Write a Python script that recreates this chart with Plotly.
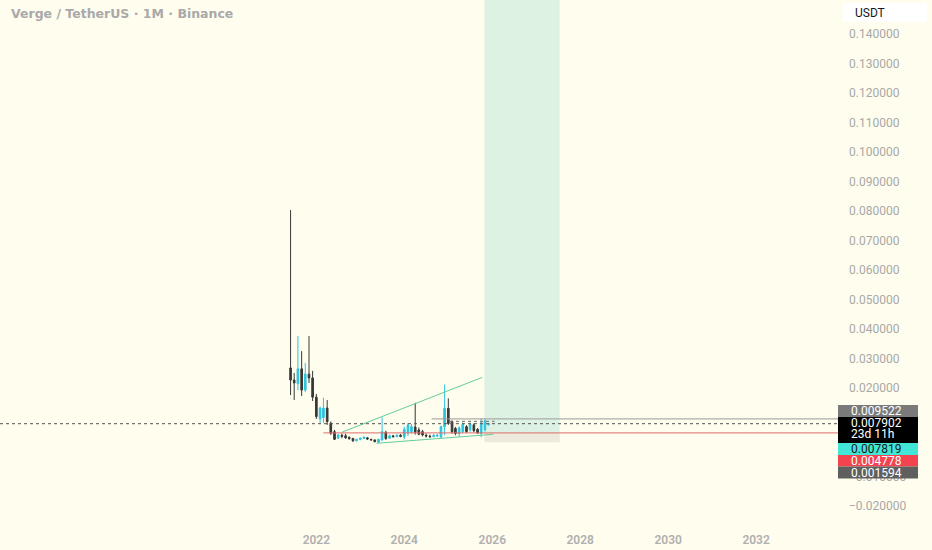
import pandas as pd
import plotly.graph_objects as go

# --- Datos (velas mensuales XVG/USDT) ---
months = pd.date_range('2021-06-01', '2025-12-01', freq='MS')

opens = [0.0268, 0.0227, 0.0215, 0.0265, 0.0193, 0.0247, 0.0234, 0.0169, 0.0095, 0.0100,
         0.0132, 0.0081, 0.0052, 0.0030, 0.0040, 0.0038, 0.0033, 0.0029, 0.0021, 0.0025,
         0.0029, 0.0031, 0.0026, 0.0024, 0.0016, 0.0024, 0.0050, 0.0030, 0.0038, 0.0035,
         0.0040, 0.0034, 0.0048, 0.0052, 0.0068, 0.0058, 0.0052, 0.0040, 0.0037, 0.0035,
         0.0037, 0.0033, 0.0069, 0.0131, 0.0086, 0.0063, 0.0046, 0.0052, 0.0069, 0.0058,
         0.0075, 0.0060, 0.0046, 0.0058, 0.0075]
highs = [0.0803, 0.0251, 0.0376, 0.0325, 0.0285, 0.0376, 0.0258, 0.0180, 0.0137, 0.0167,
         0.0159, 0.0086, 0.0058, 0.0044, 0.0045, 0.0045, 0.0036, 0.0031, 0.0028, 0.0032,
         0.0036, 0.0034, 0.0028, 0.0025, 0.0028, 0.0101, 0.0055, 0.0042, 0.0041, 0.0043,
         0.0044, 0.0069, 0.0082, 0.0078, 0.0150, 0.0066, 0.0058, 0.0046, 0.0042, 0.0044,
         0.0043, 0.0072, 0.0212, 0.0165, 0.0090, 0.0068, 0.0070, 0.0083, 0.0074, 0.0083,
         0.0080, 0.0064, 0.0097, 0.0095, 0.0082]
lows = [0.0176, 0.0159, 0.0193, 0.0173, 0.0186, 0.0217, 0.0156, 0.0095, 0.0081, 0.0082,
        0.0075, 0.0041, 0.0024, 0.0027, 0.0030, 0.0028, 0.0025, 0.0017, 0.0019, 0.0023,
        0.0027, 0.0024, 0.0022, 0.0016, 0.0014, 0.0021, 0.0025, 0.0028, 0.0032, 0.0033,
        0.0033, 0.0026, 0.0037, 0.0045, 0.0042, 0.0040, 0.0036, 0.0032, 0.0030, 0.0033,
        0.0034, 0.0031, 0.0040, 0.0075, 0.0045, 0.0040, 0.0035, 0.0048, 0.0048, 0.0052,
        0.0050, 0.0044, 0.0033, 0.0052, 0.0073]
closes = [0.0227, 0.0217, 0.0265, 0.0193, 0.0247, 0.0234, 0.0169, 0.0103, 0.0132, 0.0132,
          0.0086, 0.0047, 0.0026, 0.0040, 0.0036, 0.0031, 0.0028, 0.0021, 0.0026, 0.0030,
          0.0033, 0.0027, 0.0024, 0.0018, 0.0026, 0.0052, 0.0028, 0.0038, 0.0035, 0.0040,
          0.0036, 0.0060, 0.0075, 0.0069, 0.0050, 0.0043, 0.0041, 0.0037, 0.0035, 0.0039,
          0.0040, 0.0069, 0.0131, 0.0080, 0.0052, 0.0046, 0.0065, 0.0078, 0.0052, 0.0078,
          0.0055, 0.0048, 0.0082, 0.0089, 0.0079]

# Herramientas dibujadas (líneas de tendencia, niveles, posición larga)
upper_trend_dates = ['2022-08-01', '2025-10-10']
upper_trend_prices = [0.0050, 0.0236]
lower_trend_dates = ['2023-05-16', '2026-01-10']
lower_trend_prices = [0.00125, 0.0043]

position_dates = ['2025-10-28', '2027-07-15']
entry_price = 0.004778
stop_price = 0.001594
target_price = 0.20

level_top = 0.009522
last_price = 0.007902

label_texts = ['0.009522', '0.007902<br>23d 11h', '0.007819', '0.004778', '0.001594']
label_colors = ['#7a7a7a', '#000000', '#42e6d6', '#f2434f', '#5f5f5f']
label_fonts = ['white', 'white', '#1a1a1a', 'white', 'white']

year_ticks = ['2022-01-01', '2024-01-01', '2026-01-01', '2028-01-01', '2030-01-01', '2032-01-01']
year_labels = ['2022', '2024', '2026', '2028', '2030', '2032']

title_text = 'Verge / TetherUS · 1M · Binance'

BG = '#fffdee'
UP = '#2ec3df'
DOWN = '#383838'

fig = go.Figure()

fig.add_trace(go.Candlestick(
    x=months, open=opens, high=highs, low=lows, close=closes,
    increasing=dict(line=dict(color=UP, width=1), fillcolor=UP),
    decreasing=dict(line=dict(color=DOWN, width=1), fillcolor=DOWN),
    whiskerwidth=0, showlegend=False, hoverinfo='skip'))

fig.add_trace(go.Scatter(x=upper_trend_dates, y=upper_trend_prices, mode='lines',
                         line=dict(color='#62cf9c', width=1), showlegend=False, hoverinfo='skip'))
fig.add_trace(go.Scatter(x=lower_trend_dates, y=lower_trend_prices, mode='lines',
                         line=dict(color='#62cf9c', width=1), showlegend=False, hoverinfo='skip'))

# posición larga: zona de beneficio y zona de pérdida
fig.add_shape(type='rect', xref='x', yref='y', x0=position_dates[0], x1=position_dates[1],
              y0=entry_price, y1=target_price, fillcolor='#def2e4', line_width=0, layer='below')
fig.add_shape(type='rect', xref='x', yref='y', x0=position_dates[0], x1=position_dates[1],
              y0=stop_price, y1=entry_price, fillcolor='#ede9dd', line_width=0, layer='below')

# niveles horizontales
fig.add_shape(type='line', xref='x', yref='y', x0='2022-03-01', x1='2034-06-01',
              y0=entry_price, y1=entry_price, line=dict(color='#e06b6b', width=1))
fig.add_shape(type='line', xref='x', yref='y', x0='2024-08-15', x1='2034-06-01',
              y0=level_top, y1=level_top, line=dict(color='#9a9a9a', width=1))
fig.add_shape(type='line', xref='x', yref='y', x0='2025-01-15', x1='2026-01-20',
              y0=0.0087, y1=0.0087, line=dict(color='#6a6a6a', width=1, dash='dot'))
fig.add_shape(type='line', xref='paper', yref='y', x0=0, x1=1,
              y0=last_price, y1=last_price, line=dict(color='#555555', width=1, dash='dot'))

# etiquetas de precio apiladas en el eje derecho (bordes en px desde arriba)
plot_h = 528
plot_w = 838
box_edges = [(405, 417), (417, 443), (443, 455), (455, 466.5), (466.5, 478.5)]
for txt, bg, fc, (top, bot) in zip(label_texts, label_colors, label_fonts, box_edges):
    fig.add_shape(type='rect', xref='paper', yref='paper', layer='above',
                  x0=1, x1=1 + 80 / plot_w, y0=1 - bot / plot_h, y1=1 - top / plot_h,
                  fillcolor=bg, line_width=0)
    lines = txt.split('<br>')
    for i, line in enumerate(lines):
        cy = top + 6 + 11 * i
        fig.add_annotation(xref='paper', yref='paper', x=1 + 11 / plot_w, y=1 - cy / plot_h,
                           xanchor='left', yanchor='middle', text=line, showarrow=False,
                           font=dict(family='Roboto', size=12, color=fc))

# caja "USDT"
fig.add_shape(type='rect', xref='paper', yref='paper', x0=1 + 5 / plot_w, x1=1 + 89 / plot_w,
              y0=1 - 22 / plot_h, y1=1 - 3 / plot_h, fillcolor='white', line_width=0)
fig.add_annotation(xref='paper', yref='paper', x=1 + 15 / plot_w, y=1 - 12.5 / plot_h,
                   xanchor='left', yanchor='middle', text='USDT', showarrow=False,
                   font=dict(family='Roboto', size=12, color='#131722'))

fig.add_annotation(xref='paper', yref='paper', x=0, y=1, xanchor='left', yanchor='top',
                   xshift=9, yshift=-4, text=title_text, showarrow=False,
                   font=dict(family='DejaVu Sans', size=12.5, color='#a9a9a9', weight='bold'))

fig.update_layout(
    width=932, height=550,
    margin=dict(l=0, r=94, t=0, b=22),
    paper_bgcolor=BG, plot_bgcolor=BG,
    xaxis=dict(range=['2014-10-23', '2033-11-11'], rangeslider=dict(visible=False),
               showgrid=False, zeroline=False, tickvals=year_ticks, ticktext=year_labels,
               ticks='', showline=False, ticklabelstandoff=3,
               tickfont=dict(family='Roboto', size=12, color='#b0b0b0', weight=600)),
    yaxis=dict(side='right', range=[-0.02746, 0.15153], dtick=0.01, tick0=0,
               tickformat='.6f', showgrid=False, zeroline=False, ticks='',
               ticklabelstandoff=10,
               tickfont=dict(family='Roboto', size=12, color='#a8a8a8')),
)

fig.write_html('out.html', config={'displayModeBar': False},
               post_script="document.body.style.margin='0';"
                           "document.body.style.background='" + BG + "';")
